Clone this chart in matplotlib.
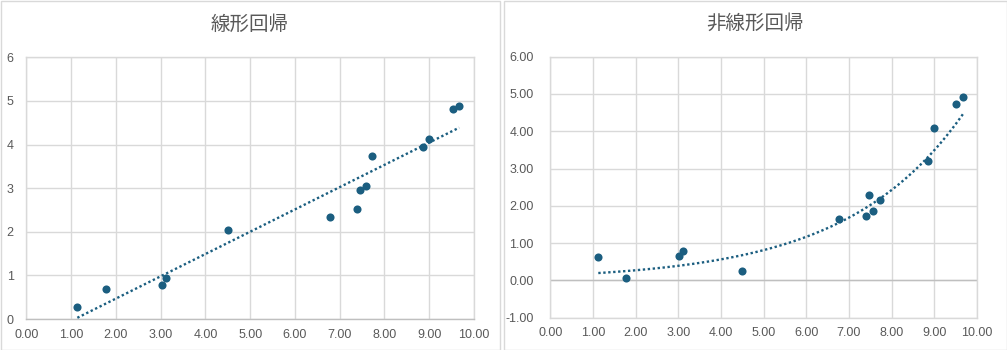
import numpy as np
import matplotlib
matplotlib.use("Agg")
import matplotlib.pyplot as plt
from matplotlib.patches import Rectangle

# Observations for the linear model
lin_x = [1.14, 1.79, 3.04, 3.13, 4.51, 6.79, 7.39, 7.46, 7.58, 7.73, 8.85, 9.00, 9.52, 9.67]
lin_y = [0.275, 0.68, 0.77, 0.93, 2.03, 2.33, 2.52, 2.95, 3.04, 3.73, 3.94, 4.12, 4.81, 4.88]

# Observations for the non-linear (exponential) model
exp_x = [1.125, 1.78, 3.02, 3.12, 4.50, 6.77, 7.41, 7.48, 7.57, 7.73, 8.84, 9.00, 9.51, 9.68]
exp_y = [0.617, 0.054, 0.66, 0.80, 0.24, 1.65, 1.72, 2.28, 1.85, 2.15, 3.19, 4.08, 4.72, 4.91]

titles = ["線形回帰", "非線形回帰"]
x_ticks = [0, 1, 2, 3, 4, 5, 6, 7, 8, 9, 10]
lin_yticks = [0, 1, 2, 3, 4, 5, 6]
exp_yticks = [-1, 0, 1, 2, 3, 4, 5, 6]

MARK = "#1b5e80"
TEXT = "#595959"
GRID = "#d9d9d9"
ZERO = "#bfbfbf"
TICK_FONT = "Liberation Sans"
TITLE_FONT = ["Noto Sans CJK JP", "DejaVu Sans"]

W, H = 1007, 350
fig = plt.figure(figsize=(W / 100, H / 100), dpi=100)


def frac(l, t, r, b):
    return [l / W, 1 - b / H, (r - l) / W, (b - t) / H]


# chart-area frames
for x0, x1 in [(0.5, 499.5), (503.5, 1006.5)]:
    fig.add_artist(Rectangle((x0 / W, 0.5 / H), (x1 - x0) / W, (H - 1.5) / H,
                             transform=fig.transFigure, fill=False,
                             edgecolor=GRID, linewidth=1))


def style(ax, yticks, ylabels, ypad):
    ax.set_xlim(0, 10)
    ax.set_ylim(yticks[0], yticks[-1])
    ax.set_xticks(x_ticks)
    ax.set_xticklabels([f"{v:.2f}" for v in x_ticks])
    ax.set_yticks(yticks)
    ax.set_yticklabels(ylabels)
    ax.grid(True, color=GRID, linewidth=1)
    ax.set_axisbelow(True)
    for s in ax.spines.values():
        s.set_color(GRID)
        s.set_linewidth(1)
    ax.tick_params(length=0, colors=TEXT, labelsize=9)
    ax.tick_params(axis="x", pad=7)
    ax.tick_params(axis="y", pad=ypad)
    for lab in ax.get_xticklabels() + ax.get_yticklabels():
        lab.set_fontfamily(TICK_FONT)


# Linear regression panel
ax1 = fig.add_axes(frac(26.3, 57.3, 474, 319))
style(ax1, lin_yticks, [str(v) for v in lin_yticks], 9)
ax1.spines["bottom"].set_color(ZERO)
lx = np.array(lin_x)
ly = np.array(lin_y)
k, c = np.polyfit(lx, ly, 1)
tx = np.linspace(lx.min(), lx.max(), 50)
ax1.scatter(lx, ly, s=34, color=MARK, zorder=3, linewidths=0)
ax1.plot(tx, k * tx + c, color=MARK, linewidth=1.7, dashes=(1, 1.1), zorder=4)
fig.text(250 / W, 1 - 24 / H, titles[0], ha="center", va="center",
         fontsize=14, color=TEXT, family=TITLE_FONT)

# Exponential regression panel
ax2 = fig.add_axes(frac(550.3, 56.7, 977, 317.7))
style(ax2, exp_yticks, [f"{v:.2f}" for v in exp_yticks], 12)
ax2.axhline(0, color=ZERO, linewidth=1, zorder=1)
ex = np.array(exp_x)
ey = np.array(exp_y)
b, ln_a = np.polyfit(ex, np.log(ey), 1)
tx2 = np.linspace(ex.min(), ex.max(), 100)
ax2.scatter(ex, ey, s=34, color=MARK, zorder=3, linewidths=0)
ax2.plot(tx2, np.exp(ln_a) * np.exp(b * tx2), color=MARK, linewidth=1.7,
         dashes=(1, 1.1), zorder=4)
fig.text(755 / W, 1 - 23 / H, titles[1], ha="center", va="center",
         fontsize=14, color=TEXT, family=TITLE_FONT)

fig.savefig("out.png", dpi=100)
